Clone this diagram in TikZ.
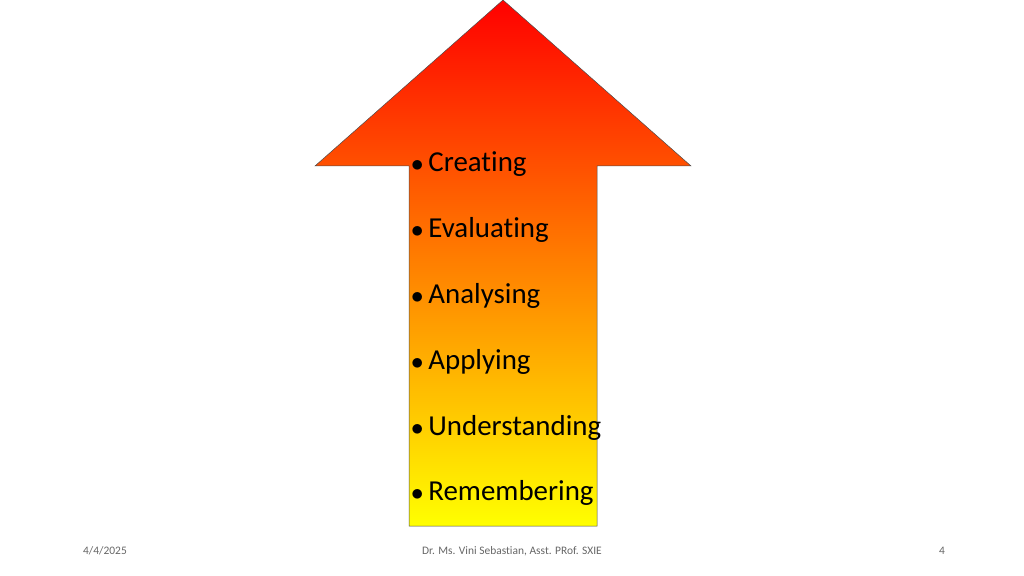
\documentclass[tikz,border=0pt]{standalone}
\usepackage{fontspec}
\setmainfont{Carlito}[Ligatures=NoCommon]
\usetikzlibrary{positioning}

\begin{document}
\begin{tikzpicture}[x=1bp, y=-1bp,
    item/.style = {anchor=base west, inner sep=0pt, font=\fontsize{29}{34}\selectfont},
    foot/.style = {anchor=base, inner sep=0pt, text=gray!80!black, font=\fontsize{11.5}{14}\selectfont}]
    \useasboundingbox (0,0) rectangle (1024,576);

    % Arrow
    \shade[top color=red, middle color=orange!80!yellow, bottom color=yellow, draw=black!70, line width=0.5pt]
      (503,0) -- (691,166) -- (597,166) -- (597,526) -- (409,526) -- (409,166) -- (315,166) -- cycle;

    % Levels
    \node[item] (c) at (411,172) {$\bullet$\,Creating};
    \node[item] (e) at (411,238) {$\bullet$\,Evaluating};
    \node[item] (a) at (411,304) {$\bullet$\,Analysing};
    \node[item] (p) at (411,369) {$\bullet$\,Applying};
    \node[item] (u) at (411,435) {$\bullet$\,Understanding};
    \node[item] (r) at (411,500) {$\bullet$\,Remembering};

    % Footer
    \node[foot] (date) at (105,554) {4/4/2025};
    \node[foot] (auth) at (512,554) {Dr. Ms. Vini Sebastian, Asst. PRof. SXIE};
    \node[foot] (num) at (942,554) {4};
\end{tikzpicture}
\end{document}
